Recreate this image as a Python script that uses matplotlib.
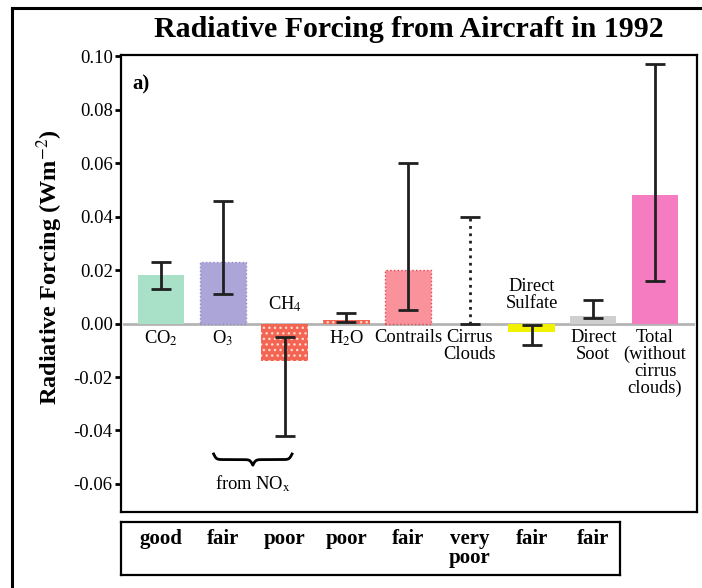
import matplotlib.pyplot as plt
import matplotlib.lines as mlines
import numpy as np

plt.rcParams['font.family'] = ['Liberation Serif', 'DejaVu Serif']
plt.rcParams['mathtext.fontset'] = 'stix'

# forcing values (W m-2) and uncertainty ranges
labels = ['CO$_2$', 'O$_3$', '', 'H$_2$O', 'Contrails', 'Cirrus\nClouds', '',
          'Direct\nSoot', 'Total\n(without\ncirrus\nclouds)']
values = [0.018, 0.023, -0.014, 0.0015, 0.020, 0.0, -0.003, 0.003, 0.048]
err_low = [0.013, 0.011, -0.042, 0.0005, 0.005, 0.0, -0.008, 0.002, 0.016]
err_high = [0.023, 0.046, -0.005, 0.004, 0.060, 0.040, -0.0005, 0.009, 0.097]
colors = ['#a8e0c8', '#aca6d8', '#f46452', '#f46452', '#f9929a', 'none',
          '#f2f200', '#cfcfcf', '#f57cc0']
understanding = ['good', 'fair', 'poor', 'poor', 'fair', 'very\npoor', 'fair', 'fair']

x = np.arange(len(values))

fig = plt.figure(figsize=(7.02, 5.88), dpi=100)
ax = fig.add_axes([0.1724, 0.1293, 0.8205, 0.7772])

bars = ax.bar(x, values, width=0.75, color=colors, linewidth=0, zorder=2)
# dotted texture on CH4 and H2O bars
plt.rcParams['hatch.linewidth'] = 0.8
for i in [2, 3]:
    bars[i].set_hatch('...')
    bars[i].set_edgecolor('#ffd8d0')
bars[1].set_edgecolor('#8f88c8')
bars[1].set_linestyle(':')
bars[1].set_linewidth(1)
bars[4].set_edgecolor('#e84050')
bars[4].set_linestyle(':')
bars[4].set_linewidth(1)

ax.axhline(0, xmin=0.006, xmax=0.993, color='#b4b4b4', lw=2, zorder=1)

vals = np.array(values)
lo = vals - np.array(err_low)
hi = np.array(err_high) - vals
for i in x:
    eb = ax.errorbar(x[i], vals[i], yerr=[[lo[i]], [hi[i]]], fmt='none',
                     ecolor='#202020', elinewidth=2, capsize=7, capthick=2, zorder=3)
    if i == 5:
        eb[2][0].set_linestyle(':')

ax.set_xlim(-0.65, 8.68)
ax.set_ylim(-0.0705, 0.1005)
ax.set_xticks([])
ax.set_yticks(np.arange(-0.06, 0.101, 0.02))
ax.set_yticklabels(['%.2f' % v for v in np.arange(-0.06, 0.101, 0.02)])
ax.tick_params(axis='y', direction='out', length=4, width=2, labelsize=13.5, pad=2)
for s in ax.spines.values():
    s.set_linewidth(1.6)

for i, lab in enumerate(labels):
    if lab:
        ax.text(x[i], -0.0019, lab, ha='center', va='top', fontsize=13.3,
                linespacing=1.0)
ax.text(x[2], 0.0036, 'CH$_4$', ha='center', va='bottom', fontsize=13.3)
ax.text(x[6], 0.0042, 'Direct\nSulfate', ha='center', va='bottom', fontsize=13.3,
        linespacing=1.0)

ax.text(0.02, 0.935, 'a)', transform=ax.transAxes, fontsize=15, fontweight='bold',
        ha='left', va='center')

# curly brace under O3 and CH4
x0, x1 = x[1] - 0.15, x[2] + 0.12
bx = np.linspace(x0, x1, 301)
half = bx[:151]
beta = 45.0
shape = 1 / (1 + np.exp(-beta * (half - half[0]))) + 1 / (1 + np.exp(-beta * (half - half[-1])))
shape = np.concatenate((shape, shape[-2::-1]))
ax.plot(bx, -0.0488 - 0.0042 * (shape - 0.5), color='black', lw=2)
ax.text((x0 + x1) / 2, -0.0562, 'from NO$_{\\mathrm{x}}$', ha='center', va='top', fontsize=13.3)

ax.set_ylabel('Radiative Forcing (Wm$^{-2}$)', fontsize=17.5, fontweight='bold')
ax.yaxis.set_label_coords(-0.097, 0.535)

fig.text(0.583, 0.949, 'Radiative Forcing from Aircraft in 1992', ha='center', va='center',
         fontsize=21.5, fontweight='bold')

# level of scientific understanding box
ax2 = fig.add_axes([0.1724, 0.0221, 0.7108, 0.0901])
ax2.set_xlim(-0.65, 7.43)
ax2.set_ylim(0, 1)
ax2.set_xticks([])
ax2.set_yticks([])
for s in ax2.spines.values():
    s.set_linewidth(1.6)
for i, u in enumerate(understanding):
    ax2.text(x[i], 0.86, u, ha='center', va='top', fontsize=15, fontweight='bold',
             linespacing=0.9)

# outer frame lines
fig.add_artist(mlines.Line2D([12 / 702, 12 / 702], [0, 1 - 8 / 588], color='black', lw=2.2))
fig.add_artist(mlines.Line2D([12 / 702, 1], [1 - 8 / 588, 1 - 8 / 588], color='black', lw=2.2))

fig.savefig('out.png', dpi=100)
